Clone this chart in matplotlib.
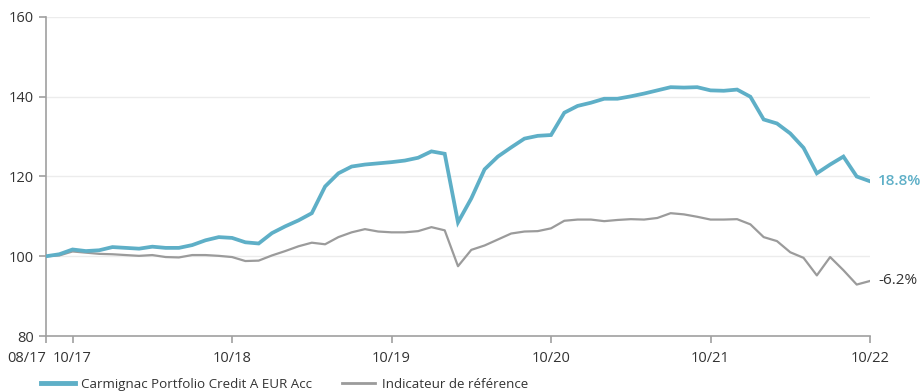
import numpy as np
import matplotlib.pyplot as plt

plt.rcParams['font.family'] = ['Open Sans', 'DejaVu Sans']

# monthly values, rebased to 100 at 08/17
fund = [100.0, 100.5, 101.7, 101.3, 101.5, 102.3, 102.1, 101.9, 102.4, 102.1,
        102.1, 102.8, 104.0, 104.8, 104.6, 103.5, 103.2, 105.8, 107.5, 109.0,
        110.8, 117.5, 120.8, 122.5, 123.0, 123.3, 123.6, 124.0, 124.7, 126.3,
        125.7, 108.5, 114.5, 121.8, 125.0, 127.3, 129.5, 130.2, 130.4, 136.0,
        137.7, 138.5, 139.5, 139.5, 140.1, 140.8, 141.6, 142.4, 142.3, 142.4,
        141.6, 141.5, 141.8, 140.0, 134.3, 133.3, 130.8, 127.2, 120.8, 123.0,
        125.0, 120.0, 118.8]
bench = [100.0, 100.2, 101.2, 100.9, 100.6, 100.5, 100.3, 100.1, 100.3, 99.8,
         99.7, 100.3, 100.3, 100.1, 99.8, 98.8, 98.9, 100.2, 101.3, 102.5,
         103.4, 103.0, 104.8, 106.0, 106.8, 106.2, 106.0, 106.0, 106.3, 107.3,
         106.5, 97.5, 101.6, 102.7, 104.2, 105.7, 106.2, 106.3, 107.0, 108.9,
         109.2, 109.2, 108.8, 109.1, 109.3, 109.2, 109.6, 110.8, 110.5, 109.9,
         109.2, 109.2, 109.3, 108.0, 104.8, 103.8, 101.0, 99.6, 95.2, 99.8,
         96.5, 92.9, 93.8]
tick_pos = [0, 2, 14, 26, 38, 50, 62]
tick_labels = ['08/17', '10/17', '10/18', '10/19', '10/20', '10/21', '10/22']
fund_name = 'Carmignac Portfolio Credit A EUR Acc'
bench_name = 'Indicateur de référence'

blue = '#5eafc7'
grey = '#9b9b9b'
txt = '#333333'

x = np.arange(len(fund))

fig = plt.figure(figsize=(9.23, 3.92), dpi=100)
ax = fig.add_axes([46/923, 1-336/392, 824/923, 319/392])

ax.plot(x, fund, color=blue, lw=2.7, solid_joinstyle='miter', label=fund_name, zorder=3)
ax.plot(x, bench, color=grey, lw=1.6, label=bench_name, zorder=2)

ax.set_xlim(0, 62)
ax.set_ylim(80, 160)
ax.set_yticks([80, 100, 120, 140, 160])
ax.set_xticks(tick_pos)
ax.set_xticklabels(tick_labels)
# first date sits left of its tick so it clears 10/17
ax.get_xticklabels()[0].set_ha('right')
ax.grid(axis='y', color='#ececec', lw=1)
ax.set_axisbelow(True)

for s in ['top', 'right']:
    ax.spines[s].set_visible(False)
for s in ['left', 'bottom']:
    ax.spines[s].set_color('#a0a0a0')
    ax.spines[s].set_linewidth(1.2)
ax.tick_params(colors='#a0a0a0', labelcolor=txt, labelsize=10.5, length=5, width=1.2)
ax.tick_params(axis='x', pad=6)

# end-of-period performance labels
ax.annotate(f'{fund[-1] - 100:.1f}%', (x[-1], fund[-1]), xytext=(6, 0),
            textcoords='offset points', va='center', ha='left',
            color=blue, fontsize=11, fontweight='semibold', annotation_clip=False)
ax.annotate(f'{bench[-1] - 100:.1f}%', (x[-1], bench[-1]), xytext=(6, 0),
            textcoords='offset points', va='center', ha='left',
            color=txt, fontsize=11, annotation_clip=False)

leg = fig.legend(loc='lower left', bbox_to_anchor=(40/923, 0.0), ncol=2,
                 frameon=False, fontsize=9.6, handlelength=2.5, handletextpad=0.5,
                 columnspacing=2.2, borderaxespad=0.0, borderpad=0.1)
for t in leg.get_texts():
    t.set_color(txt)
leg.get_lines()[0].set_linewidth(3.5)
leg.get_lines()[1].set_linewidth(2)

fig.savefig('out.png', dpi=100)
